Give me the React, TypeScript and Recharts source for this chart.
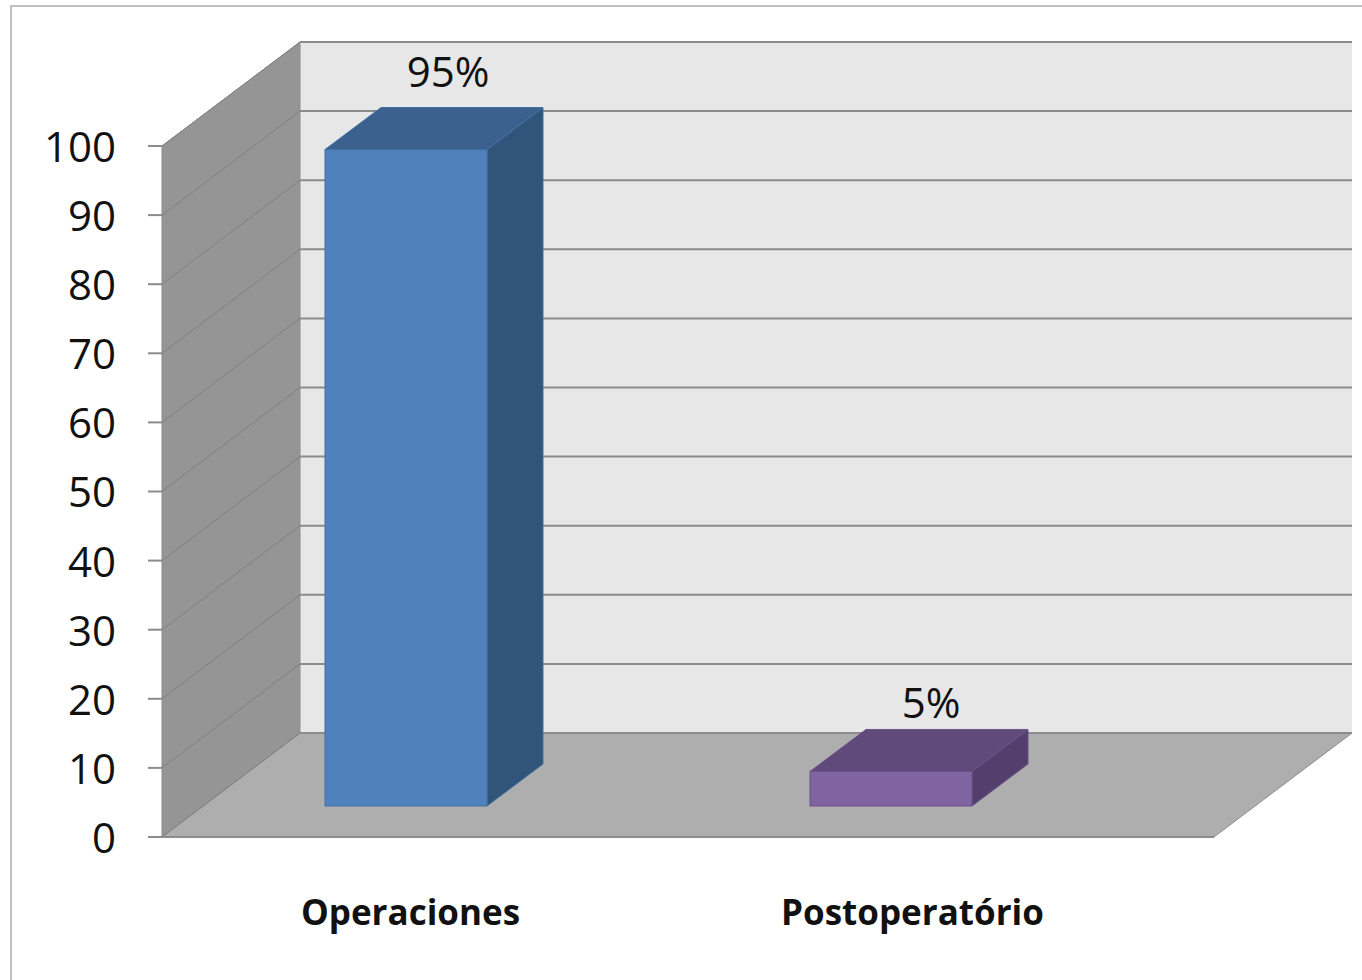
import { Bar, BarChart, CartesianGrid, Cell, LabelList, XAxis, YAxis } from 'recharts'

const categories = ['Operaciones', 'Postoperatório']
const values = [95, 5]
const yTicks = [0, 10, 20, 30, 40, 50, 60, 70, 80, 90, 100]

const frontColors = ['#4f81bd', '#8064a2']
const topColors = ['#3c618f', '#604a7b']
const sideColors = ['#31547b', '#533f6b']
const edgeColors = ['#41709f', '#6b5389']

// nudges for the text that does not sit where the scale would put it
const labelLift = [109, 99]
const labelShift = [42, 40]
const categoryNudge = [5, 22]

const data = categories.map((name, i) => ({ name, value: values[i] }))

const FONT = '"Open Sans", sans-serif'
const PLOT_TOP = 146
const PLOT_BOTTOM = 837
const WALL_DX = 138
const WALL_DY = 104
const BAR_LIFT = 31
const BAR_DX = 56
const BAR_DY = 42
const LINE = '#8c8c8c'
const SIDE_LINE = '#808080'

function WallLine(props: any) {
  const { x1, x2, y1, index } = props
  const wx = x1 + WALL_DX
  const wr = x2 + WALL_DX
  return (
    <g>
      {index === 0 && (
        <g>
          <polygon
            points={`${wx},${PLOT_TOP - WALL_DY} ${wr},${PLOT_TOP - WALL_DY} ${wr},${PLOT_BOTTOM - WALL_DY} ${wx},${PLOT_BOTTOM - WALL_DY}`}
            fill="#e7e7e7"
          />
          <polygon
            points={`${x1},${PLOT_TOP} ${wx},${PLOT_TOP - WALL_DY} ${wx},${PLOT_BOTTOM - WALL_DY} ${x1},${PLOT_BOTTOM}`}
            fill="#959595"
            stroke={LINE}
            strokeWidth={1}
          />
          <polygon
            points={`${x1},${PLOT_BOTTOM} ${wx},${PLOT_BOTTOM - WALL_DY} ${wr},${PLOT_BOTTOM - WALL_DY} ${x2},${PLOT_BOTTOM}`}
            fill="#aeaeae"
            stroke={LINE}
            strokeWidth={1}
          />
        </g>
      )}
      <line x1={x1} y1={y1} x2={wx} y2={y1 - WALL_DY} stroke={SIDE_LINE} strokeWidth={1} />
      <line x1={wx} y1={y1 - WALL_DY} x2={wr} y2={y1 - WALL_DY} stroke={LINE} strokeWidth={2} />
      {index === 0 && <line x1={x1} y1={y1} x2={x2} y2={y1} stroke={LINE} strokeWidth={2} />}
    </g>
  )
}

function Bar3D(props: any) {
  const { x, y, width, height, index } = props
  const top = y - BAR_LIFT
  const bottom = y + height - BAR_LIFT
  const right = x + width
  return (
    <g stroke={edgeColors[index]} strokeWidth={1}>
      <polygon
        points={`${right},${top} ${right + BAR_DX},${top - BAR_DY} ${right + BAR_DX},${bottom - BAR_DY} ${right},${bottom}`}
        fill={sideColors[index]}
      />
      <polygon
        points={`${x},${top} ${x + BAR_DX},${top - BAR_DY} ${right + BAR_DX},${top - BAR_DY} ${right},${top}`}
        fill={topColors[index]}
      />
      <rect x={x} y={top} width={width} height={height} fill={frontColors[index]} />
    </g>
  )
}

function ValueLabel(props: any) {
  const { x, y, width, value, index } = props
  return (
    <text
      x={x + width / 2 + labelShift[index]}
      y={y - labelLift[index] + 15}
      textAnchor="middle"
      fontFamily={FONT}
      fontSize={42}
      fill="#111"
    >
      {`${value}%`}
    </text>
  )
}

function CategoryTick(props: any) {
  const { x, payload, index } = props
  return (
    <text
      x={x + categoryNudge[index]}
      y={925}
      textAnchor="middle"
      fontFamily={FONT}
      fontSize={35}
      fontWeight={700}
      fill="#111"
    >
      {payload.value}
    </text>
  )
}

export default function App() {
  return (
    <div style={{ position: 'absolute', left: 0, top: 0, width: 1362, height: 980, background: '#fff' }}>
      <div
        style={{
          position: 'absolute',
          left: 10,
          top: 5,
          right: 0,
          bottom: 0,
          borderTop: '2px solid #c0c0c0',
          borderLeft: '2px solid #c0c0c0',
        }}
      />
      <div style={{ position: 'absolute', left: 0, top: 0 }}>
        <BarChart
          width={1362}
          height={980}
          data={data}
          margin={{ top: PLOT_TOP, right: 148, bottom: 0, left: 0 }}
          barSize={162}
        >
          <CartesianGrid vertical={false} horizontal={(props: any) => <WallLine {...props} />} />
          <XAxis
            dataKey="name"
            height={143}
            axisLine={false}
            tickLine={false}
            padding={{ left: 1, right: 81 }}
            interval={0}
            tick={(props: any) => <CategoryTick {...props} />}
          />
          <YAxis
            width={162}
            domain={[0, 100]}
            ticks={yTicks}
            interval={0}
            axisLine={false}
            tickSize={14}
            tickMargin={32}
            tickLine={{ stroke: LINE, strokeWidth: 2 }}
            tick={{ fontFamily: FONT, fontSize: 42, fill: '#111', dy: 1 }}
          />
          <Bar dataKey="value" isAnimationActive={false} shape={(props: any) => <Bar3D {...props} />}>
            {data.map((d, i) => (
              <Cell key={d.name} fill={frontColors[i]} />
            ))}
            <LabelList dataKey="value" content={(props: any) => <ValueLabel {...props} />} />
          </Bar>
        </BarChart>
      </div>
    </div>
  )
}
